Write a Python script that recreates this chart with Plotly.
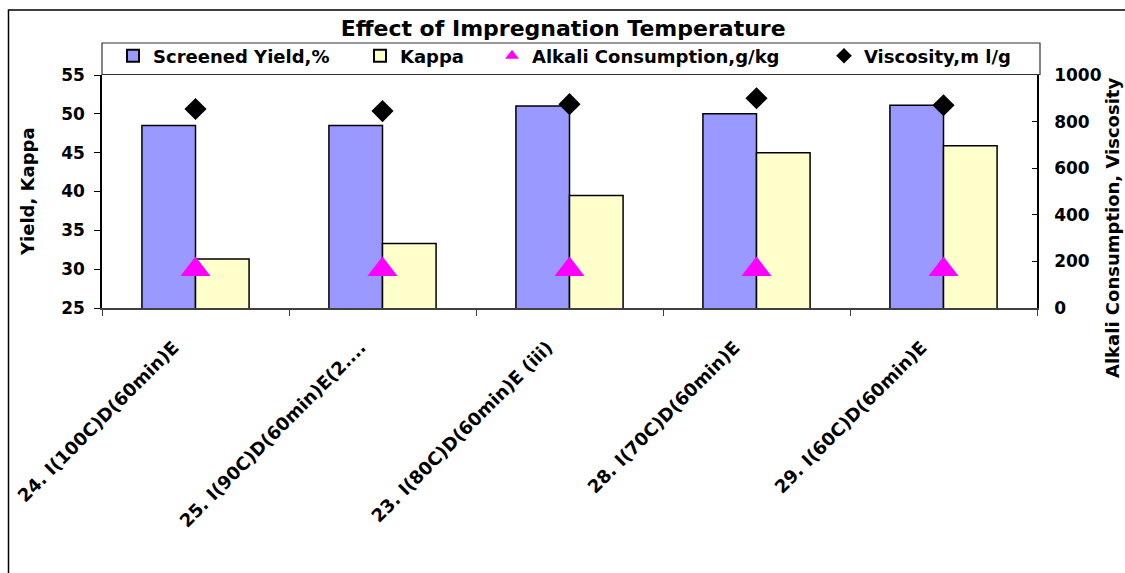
import plotly.graph_objects as go

categories = [
    "24. I(100C)D(60min)E",
    "25. I(90C)D(60min)E(2....",
    "23. I(80C)D(60min)E (iii)",
    "28. I(70C)D(60min)E",
    "29. I(60C)D(60min)E",
]
screened_yield = [48.5, 48.5, 51.0, 50.0, 51.1]
kappa = [31.3, 33.3, 39.5, 45.0, 45.9]
alkali_consumption = [165, 165, 165, 165, 165]
viscosity = [854, 845, 875, 900, 870]

y1_ticks = [25, 30, 35, 40, 45, 50, 55]
y2_ticks = [0, 200, 400, 600, 800, 1000]

FONT = "DejaVu Sans"
W, H = 1125, 573
ML, MR, MT, MB = 102, 88, 75, 265
PW = W - ML - MR
PH = H - MT - MB


def px_x(p):
    return (p - ML) / PW


def px_y(p):
    return (H - MB - p) / PH


fig = go.Figure()
fig.add_trace(go.Bar(
    x=categories, y=screened_yield, name="Screened Yield,%",
    marker=dict(color="#9999FF", line=dict(color="#000000", width=1.5)),
    legend="legend", yaxis="y",
))
fig.add_trace(go.Bar(
    x=categories, y=kappa, name="Kappa",
    marker=dict(color="#FFFFCC", line=dict(color="#000000", width=1.5)),
    legend="legend2", yaxis="y",
))
fig.add_trace(go.Scatter(
    x=categories, y=alkali_consumption, name="Alkali Consumption,g/kg",
    mode="markers", marker=dict(symbol="triangle-up", size=26, color="#FF00FF", line=dict(width=0)),
    legend="legend3", yaxis="y2",
))
fig.add_trace(go.Scatter(
    x=categories, y=viscosity, name="Viscosity,m l/g",
    mode="markers", marker=dict(symbol="diamond", size=17, color="#000000", line=dict(width=0)),
    legend="legend4", yaxis="y2",
))

legend_font = dict(family=FONT, size=18, color="#000000", weight="bold")
leg_y = px_y(56)


def leg(xpix):
    return dict(x=px_x(xpix), y=leg_y, xanchor="left", yanchor="middle",
                orientation="h", font=legend_font, bgcolor="rgba(0,0,0,0)",
                itemsizing="constant", borderwidth=0)


tickfont = dict(family=FONT, size=17, color="#000000", weight="bold")

fig.update_layout(
    width=W, height=H,
    margin=dict(l=ML, r=MR, t=MT, b=MB, autoexpand=False),
    paper_bgcolor="white", plot_bgcolor="white",
    barmode="group", bargap=0.427, bargroupgap=0,
    title=dict(text="Effect of Impregnation Temperature", x=px_x(570), xanchor="center",
               y=1 - 28 / H, yanchor="middle", yref="container",
               font=dict(family=FONT, size=22, color="#000000", weight="bold")),
    legend=leg(113), legend2=leg(360), legend3=leg(492), legend4=leg(824),
    xaxis=dict(type="category", range=[-0.5, 4.5], showline=True, linecolor="#404040", linewidth=1.5,
               ticks="outside", ticklen=6, tickcolor="#404040", tickson="boundaries",
               tickangle=-45, tickfont=dict(family=FONT, size=18, color="#000000", weight="bold"),
               ticklabelstandoff=20, ticklabelshift=-22,
               showgrid=False, zeroline=False),
    yaxis=dict(range=[25, 55], tickvals=y1_ticks, showline=True, linecolor="#000000", linewidth=1.5,
               ticks="outside", ticklen=6, tickcolor="#000000", tickfont=tickfont,
               ticklabelstandoff=6, showgrid=False, zeroline=False),
    yaxis2=dict(range=[0, 1000], tickvals=y2_ticks, overlaying="y", side="right", showline=True,
                linecolor="#000000", linewidth=1.5, ticks="inside", ticklen=5, tickcolor="#000000",
                tickfont=tickfont, ticklabelstandoff=12, showgrid=False, zeroline=False),
    showlegend=True,
)

fig.add_annotation(text="Yield, Kappa", xref="paper", yref="paper", x=px_x(27), y=px_y(192),
                   textangle=-90, showarrow=False, xanchor="center", yanchor="middle",
                   font=dict(family=FONT, size=18, color="#000000", weight="bold"))
fig.add_annotation(text="Alkali Consumption, Viscosity", xref="paper", yref="paper", x=px_x(1112),
                   y=px_y(228), textangle=-90, showarrow=False, xanchor="center", yanchor="middle",
                   font=dict(family=FONT, size=18, color="#000000", weight="bold"))

# legend frame
fig.add_shape(type="rect", xref="paper", yref="paper", x0=px_x(102), x1=px_x(1040),
              y0=px_y(74.5), y1=px_y(43), line=dict(color="#333333", width=1.2), layer="above")
# outer chart border
fig.add_shape(type="rect", xref="paper", yref="paper", x0=px_x(8.5), x1=px_x(1140),
              y0=px_y(590), y1=px_y(10), line=dict(color="#000000", width=1.5), layer="above")

fig.write_html("out.html", config={"displayModeBar": False},
               post_script="document.body.style.margin='0';document.body.style.overflow='hidden';")
